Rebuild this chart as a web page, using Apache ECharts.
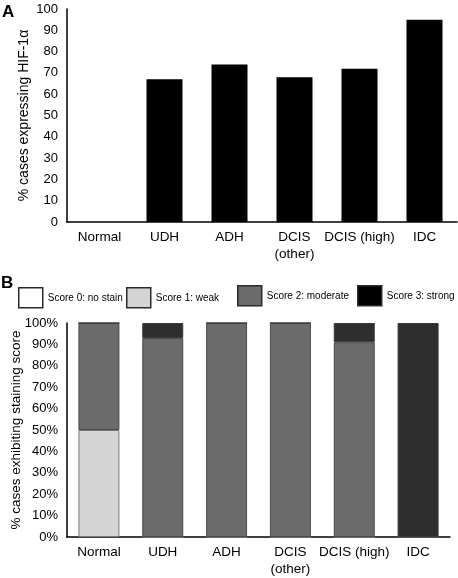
<!DOCTYPE html>
<html>
<head>
<meta charset="utf-8">
<script src="https://cdn.jsdelivr.net/npm/echarts@6/dist/echarts.min.js"></script>
<style>
html,body{margin:0;padding:0;background:#fff;}
#c{width:458px;height:578px;}
</style>
</head>
<body>
<div id="c"></div>
<script>
const categories = ['Normal', 'UDH', 'ADH', 'DCIS\n(other)', 'DCIS (high)', 'IDC'];
const hifValues = [0, 67, 74, 68, 72, 95];
const score0 = [0, 0, 0, 0, 0, 0];
const score1 = [50, 0, 0, 0, 0, 0];
const score2 = [50, 93, 100, 100, 91, 0];
const score3 = [0, 7, 0, 0, 9, 100];
const scoreNames = ['Score 0: no stain', 'Score 1: weak', 'Score 2: moderate', 'Score 3: strong'];
const yTicksA = [0, 100, 10];
const yTicksB = [0, 100, 10];

const FONT = 'Liberation Sans, Arial, Helvetica, sans-serif';
const chart = echarts.init(document.getElementById('c'), null, {renderer: 'canvas'});

function legendFor(i, left, top, fill) {
  return {
    show: true, left: left, top: top, padding: 0, orient: 'horizontal',
    itemWidth: 24, itemHeight: 20, selectedMode: false,
    textStyle: {fontFamily: FONT, fontSize: 10, color: '#000'},
    data: [{name: scoreNames[i], icon: 'rect',
      itemStyle: {color: fill, borderColor: '#2a2a2a', borderWidth: 1.5}}]
  };
}

const axisLabelX = {fontFamily: FONT, fontSize: 13.5, color: '#000', margin: 7, lineHeight: 17, interval: 0};
const axisLabelY = {fontFamily: FONT, fontSize: 13, color: '#000', margin: 9};

const option = {
  animation: false,
  backgroundColor: '#fff',
  textStyle: {fontFamily: FONT},
  graphic: [
    {type: 'text', left: 2, top: 4, style: {text: 'A', font: 'bold 17px ' + FONT, fill: '#000'}},
    {type: 'text', left: 1, top: 275, style: {text: 'B', font: 'bold 17px ' + FONT, fill: '#000'}}
  ],
  legend: [
    legendFor(0, 18, 287, '#ffffff'),
    legendFor(1, 126, 287, '#d4d4d4'),
    legendFor(2, 237, 285, '#6b6b6b'),
    legendFor(3, 357, 285, '#000000')
  ],
  grid: [
    {left: 67, top: 9, width: 390, height: 213, containLabel: false, outerBoundsMode: 'none'},
    {left: 67, top: 323, width: 383, height: 214, containLabel: false, outerBoundsMode: 'none'}
  ],
  xAxis: [
    {gridIndex: 0, type: 'category', data: categories,
     axisLine: {lineStyle: {color: '#000', width: 1.5}}, axisTick: {show: false},
     axisLabel: axisLabelX},
    {gridIndex: 1, type: 'category', data: categories,
     axisLine: {lineStyle: {color: '#000', width: 1.5}}, axisTick: {show: false},
     axisLabel: axisLabelX}
  ],
  yAxis: [
    {gridIndex: 0, type: 'value', min: yTicksA[0], max: yTicksA[1], interval: yTicksA[2],
     axisLine: {show: true, lineStyle: {color: '#000', width: 1.5}}, axisTick: {show: false},
     splitLine: {show: false}, axisLabel: axisLabelY,
     name: '% cases expressing HIF-1\u03b1', nameLocation: 'middle', nameGap: 36, nameMoveOverlap: false,
     nameTextStyle: {fontFamily: FONT, fontSize: 14, color: '#000'}},
    {gridIndex: 1, type: 'value', min: yTicksB[0], max: yTicksB[1], interval: yTicksB[2],
     axisLine: {show: true, lineStyle: {color: '#000', width: 1.5}}, axisTick: {show: false},
     splitLine: {show: false}, axisLabel: Object.assign({}, axisLabelY, {formatter: '{value}%'}),
     name: '% cases exhibiting staining score', nameLocation: 'middle', nameGap: 44, nameMoveOverlap: false,
     nameTextStyle: {fontFamily: FONT, fontSize: 13.5, color: '#000'}}
  ],
  series: [
    {name: 'HIF', type: 'bar', xAxisIndex: 0, yAxisIndex: 0, data: hifValues, barWidth: 36,
     itemStyle: {color: '#000'}},
    {name: scoreNames[0], type: 'bar', stack: 's', xAxisIndex: 1, yAxisIndex: 1, data: score0, barWidth: 41,
     itemStyle: {color: '#ffffff', borderWidth: 0}},
    {name: scoreNames[1], type: 'bar', stack: 's', xAxisIndex: 1, yAxisIndex: 1, data: score1, barWidth: 41,
     itemStyle: {color: '#d4d4d4', borderColor: '#7a7a7a', borderWidth: 1}},
    {name: scoreNames[2], type: 'bar', stack: 's', xAxisIndex: 1, yAxisIndex: 1, data: score2, barWidth: 41,
     itemStyle: {color: '#6b6b6b', borderColor: '#4a4a4a', borderWidth: 1}},
    {name: scoreNames[3], type: 'bar', stack: 's', xAxisIndex: 1, yAxisIndex: 1, data: score3, barWidth: 41,
     itemStyle: {color: '#2e2e2e', borderColor: '#3a3a3a', borderWidth: 1}}
  ]
};
chart.setOption(option);
</script>
</body>
</html>
